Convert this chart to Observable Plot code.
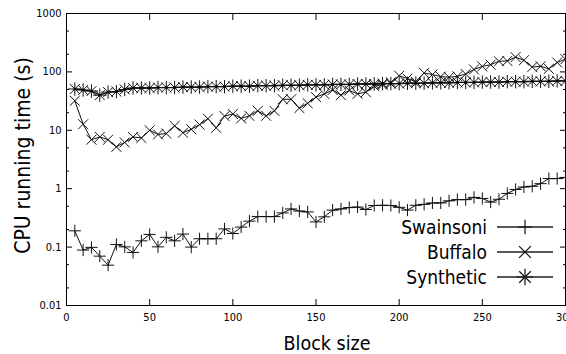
<!DOCTYPE html>
<html><head><meta charset="utf-8">
<script src="https://cdn.jsdelivr.net/npm/d3@7"></script>
<script src="https://cdn.jsdelivr.net/npm/@observablehq/plot@0.6"></script>
<style>html,body{margin:0;padding:0;background:#fff}</style>
</head><body><div id="chart"></div>
<script>
const blockSizes = [5,10,15,20,25,30,35,40,45,50,55,60,65,70,75,80,85,90,95,100,
  105,110,115,120,125,130,135,140,145,150,155,160,165,170,175,180,185,190,195,200,
  205,210,215,220,225,230,235,240,245,250,255,260,265,270,275,280,285,290,295,300];
const swainsoni = [0.19,0.089,0.099,0.07,0.049,0.111,0.101,0.081,0.128,0.165,
  0.101,0.147,0.128,0.167,0.10,0.139,0.139,0.139,0.205,0.171,
  0.22,0.278,0.333,0.333,0.333,0.385,0.45,0.415,0.40,0.27,
  0.33,0.43,0.45,0.475,0.485,0.44,0.515,0.52,0.515,0.48,
  0.43,0.52,0.54,0.57,0.57,0.62,0.65,0.65,0.71,0.68,
  0.59,0.66,0.83,0.97,1.07,1.1,1.22,1.49,1.49,1.56];
const buffalo = [32,12.7,6.9,7.7,6.9,5.2,6.2,7.7,7.4,10,
  8.5,8.8,11.9,9.1,10.4,12.5,15.8,11,17.5,19,
  16,17.7,21.5,17.7,21.5,34,34,24,29,37,
  42,49,40,48,42,45,57,60,66,86,
  77,68,96,90,83,81,84,92,110,124,
  133,152,154,179,158,121,125,113,145,165];
const synthetic = [51,49,47,40,45,46,50,53,53,53,
  54,54,54,55,55,55,56,56,56,57,
  57,57,58,58,58,59,59,59,60,60,
  60,61,61,61,62,62,62,63,63,63,
  64,64,64,65,65,65,66,66,66,67,
  67,67,68,68,68,69,69,69,70,70];
const seriesNames = ["Swainsoni","Buffalo","Synthetic"];
const xTicks = [0,50,100,150,200,250,300];
const yTicks = [0.01,0.1,1,10,100,1000];
const yTickLabels = ["0.01","0.1","1","10","100","1000"];
const yMinorTicks = [0.02,0.05,0.2,0.5,2,5,20,50,200,500];

const FONT = '"DejaVu Sans Condensed","DejaVu Sans",sans-serif';
const rows = (vals) => blockSizes.map((b, i) => ({x: b, y: vals[i]}));
const sw = rows(swainsoni), bu = rows(buffalo), sy = rows(synthetic);

const plot = Plot.plot({
  width: 566, height: 354,
  marginLeft: 66, marginRight: 1, marginTop: 13, marginBottom: 49,
  style: {fontFamily: FONT, background: "#fff", color: "#000"},
  x: {domain: [0, 300]},
  y: {type: "log", domain: [0.01, 1000]},
  marks: [
    Plot.frame({stroke: "#000", strokeWidth: 1}),
    // ticks (inward, mirrored)
    Plot.axisX({anchor: "bottom", ticks: xTicks, tickSize: -6, fill: "none"}),
    Plot.axisX({anchor: "top", ticks: xTicks, tickSize: -6, fill: "none"}),
    Plot.axisY({anchor: "left", ticks: yTicks, tickSize: -6, fill: "none"}),
    Plot.axisY({anchor: "right", ticks: yTicks, tickSize: -6, fill: "none"}),
    Plot.axisY({anchor: "left", ticks: yMinorTicks, tickSize: -3, fill: "none"}),
    Plot.axisY({anchor: "right", ticks: yMinorTicks, tickSize: -3, fill: "none"}),
    // tick labels
    Plot.axisX({anchor: "bottom", ticks: xTicks, tickSize: 0, tickPadding: 8, fontSize: 11, label: null}),
    Plot.axisY({anchor: "left", ticks: yTicks, tickSize: 0, tickPadding: 5, fontSize: 11, label: null,
      tickFormat: d => yTickLabels[yTicks.indexOf(d)]}),
    // series
    Plot.line(sw, {x: "x", y: "y", stroke: "#111", strokeWidth: 1}),
    Plot.dot(sw, {x: "x", y: "y", symbol: "plus", r: 4, stroke: "#111", strokeWidth: 1}),
    Plot.line(bu, {x: "x", y: "y", stroke: "#111", strokeWidth: 1}),
    Plot.dot(bu, {x: "x", y: "y", symbol: "times", r: 4.6, stroke: "#111", strokeWidth: 1}),
    Plot.line(sy, {x: "x", y: "y", stroke: "#111", strokeWidth: 1.3}),
    Plot.dot(sy, {x: "x", y: "y", symbol: "plus", r: 4.4, stroke: "#111", strokeWidth: 1}),
    Plot.dot(sy, {x: "x", y: "y", symbol: "times", r: 4.6, stroke: "#111", strokeWidth: 1}),
    Plot.dot(sy, {x: "x", y: "y", r: 1.3, fill: "#000"}),
    // axis titles
    Plot.text(["Block size"], {frameAnchor: "bottom", dx: 11, dy: 44, fontSize: 19.5, lineAnchor: "bottom", fill: "#000"}),
    Plot.text(["CPU running time (s)"], {frameAnchor: "left", dx: -43, dy: -4, rotate: -90, textAnchor: "middle", fontSize: 21, fill: "#000"})
  ]
});
document.getElementById("chart").appendChild(plot);

// legend (inside, bottom right)
const svg = d3.select(plot);
const leg = svg.append("g").attr("font-family", FONT).attr("font-size", 19).attr("fill", "#000");
const legSymbols = [[d3.symbolPlus], [d3.symbolTimes], [d3.symbolPlus, d3.symbolTimes]];
const legSizes = [Math.PI * 16, Math.PI * 4.6 * 4.6, Math.PI * 4.5 * 4.5];
seriesNames.forEach((name, i) => {
  const cy = 227 + i * 25;
  leg.append("text").attr("x", 487).attr("y", cy).attr("dy", "0.35em").attr("text-anchor", "end").text(name);
  leg.append("line").attr("x1", 497).attr("x2", 553).attr("y1", cy).attr("y2", cy)
    .attr("stroke", "#222").attr("stroke-width", 1.6);
  legSymbols[i].forEach(s => {
    leg.append("path").attr("d", d3.symbol(s, legSizes[i] * 1.4)())
      .attr("transform", `translate(525,${cy})`).attr("fill", "none").attr("stroke", "#111").attr("stroke-width", 1.2);
  });
});
</script></body></html>
